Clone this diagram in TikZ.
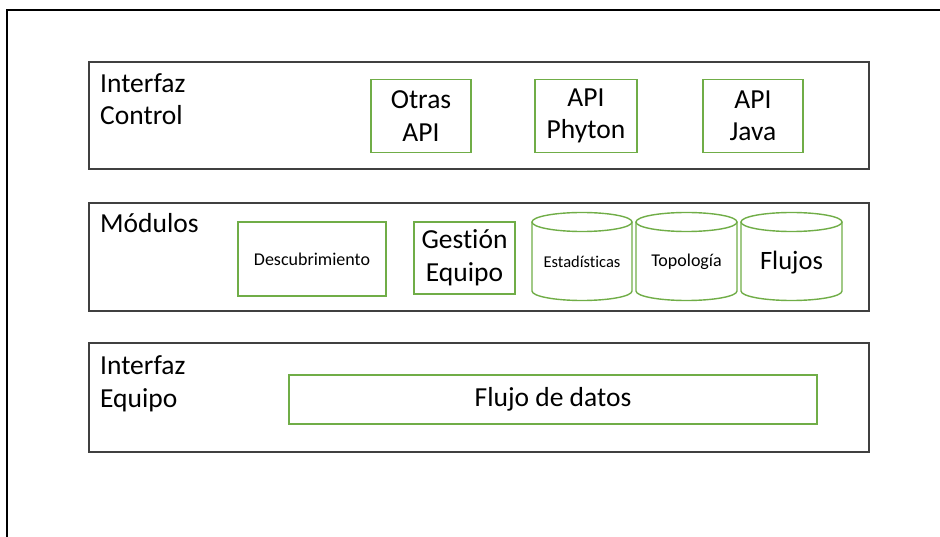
\documentclass[tikz,border=0pt]{standalone}
\usepackage{fontspec}
\setmainfont{Carlito}[Ligatures={NoCommon}]
\definecolor{layergray}{HTML}{404040}
\definecolor{boxgreen}{HTML}{70AD47}
\begin{document}
\begin{tikzpicture}[x=1pt,y=-1pt,
  layer/.style={draw=layergray, line width=1.6pt, minimum width=780pt, inner sep=0pt},
  lbl/.style={align=left, inner sep=0pt, font=\fontsize{27.5}{32.5}\selectfont},
  grnbox/.style={draw=boxgreen, line width=1.4pt, inner sep=0pt, align=center,
    font=\fontsize{27.5}{32.5}\selectfont},
  smalltxt/.style={font=\fontsize{18}{22}\selectfont},
  cyltxt/.style={inner sep=0pt, align=center}]
\useasboundingbox (0,0) rectangle (940,537);
\begin{scope}
\clip (0,0) rectangle (940,537);
% outer frame, running off the page on the right and bottom
\draw[line width=1.3pt] (7,560) -- (7,10) -- (960,10);
\end{scope}

% three layers
\node[layer, minimum height=107pt] (ctl) at (479,115.5) {};
\node[layer, minimum height=108pt] (mod) at (479,257) {};
\node[layer, minimum height=109pt] (eqp) at (479,397.5) {};

% layer titles (base anchor = last line)
\node[lbl, anchor=base west] (ctltxt) at (100,125) {Interfaz\\Control};
\node[lbl, anchor=base west] (modtxt) at (100,233) {Módulos};
\node[lbl, anchor=base west] (eqptxt) at (100,407) {Interfaz\\Equipo};

% control interface APIs
\node[grnbox, minimum width=100pt, minimum height=73pt] (otras) at (421,116) {Otras\\API};
\node[grnbox, minimum width=102pt, minimum height=73pt] (phyton) at (586,116) {API\\Phyton};
\node[grnbox, minimum width=100pt, minimum height=73pt] (java) at (753,116) {API\\Java};

% modules
\node[grnbox, smalltxt, minimum width=148pt, minimum height=74pt] (desc) at (312,259) {Descubrimiento};
\node[grnbox, minimum width=101pt, minimum height=72pt] (gest) at (464.5,258) {Gestión\\Equipo};

% cylinders: left, right, top, bottom
\foreach \xa/\xb/\nm in {532/632/est, 636/737/top, 741/842/flu}{
  \pgfmathsetmacro\cx{(\xa+\xb)/2}
  \pgfmathsetmacro\rx{(\xb-\xa)/2}
  \draw[boxgreen, line width=1.4pt] (\xa,222) -- (\xa,291)
     arc[start angle=180, end angle=0, x radius=\rx, y radius=9.5] -- (\xb,222);
  \draw[boxgreen, line width=1.4pt] (\cx,222) ellipse [x radius=\rx, y radius=9.5];
}
\node[cyltxt, font=\fontsize{16.5}{20}\selectfont] (est) at (582,262) {Estadísticas};
\node[cyltxt, smalltxt] (top) at (686.5,262) {Topología};
\node[cyltxt, font=\fontsize{26.5}{32}\selectfont] (flu) at (791.5,263) {Flujos};

% data plane
\node[grnbox, minimum width=528pt, minimum height=49pt] (datos) at (553,399.5) {Flujo de datos};
\end{tikzpicture}
\end{document}
